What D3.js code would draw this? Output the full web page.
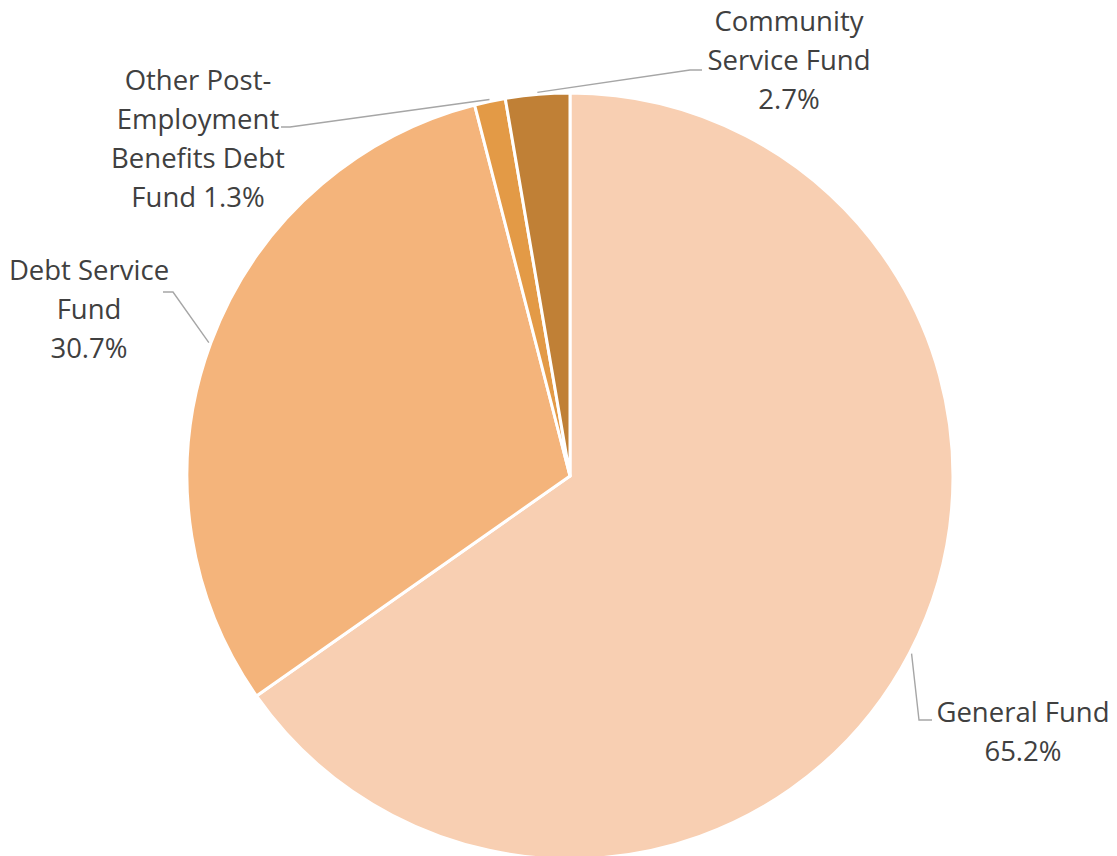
<!DOCTYPE html>
<html>
<head>
<meta charset="utf-8">
<script src="https://cdn.jsdelivr.net/npm/d3@7"></script>
<style>
  html, body { margin: 0; padding: 0; background: #ffffff; }
  svg { display: block; }
  text { font-family: "Open Sans", Lato, "Liberation Sans", sans-serif; fill: #404040; }
</style>
</head>
<body>
<svg id="chart" width="1117" height="856"></svg>
<script>
// ---- data ----
const categories = ["General Fund", "Debt Service Fund", "Other Post-Employment Benefits Debt Fund", "Community Service Fund"];
const values = [65.2, 30.7, 1.3, 2.7];
const labelLines = [
  ["General Fund", "65.2%"],
  ["Debt Service", "Fund", "30.7%"],
  ["Other Post-", "Employment", "Benefits Debt", "Fund 1.3%"],
  ["Community", "Service Fund", "2.7%"]
];
const colors = ["#F8CFB2", "#F4B47B", "#E39A46", "#C08036"];

// ---- layout (positions of the label boxes, leader elbows) ----
const W = 1117, H = 856;
const cx = 570, cy = 476, R = 383;
const lineH = 39;
const labelLayout = [
  { x: 1023, y: 722, elbow: [919, 720], end: [932, 720] },
  { x: 89,   y: 280, elbow: [173, 292], end: [163, 292] },
  { x: 198,  y: 90,  elbow: [290, 127], end: [281, 127] },
  { x: 789,  y: 31,  elbow: [690, 70],  end: [702, 70] }
];

const svg = d3.select("#chart");
const g = svg.append("g").attr("transform", `translate(${cx},${cy})`);

const pie = d3.pie().sort(null).value(d => d)
  .startAngle(0).endAngle(2 * Math.PI);
const arcs = pie(values);
const arc = d3.arc().innerRadius(0).outerRadius(R);

g.selectAll("path.slice")
  .data(arcs)
  .join("path")
  .attr("class", "slice")
  .attr("d", arc)
  .attr("fill", (d, i) => colors[i])
  .attr("stroke", "#ffffff")
  .attr("stroke-width", 3)
  .attr("stroke-linejoin", "round");

// leader lines
const leader = svg.append("g");
arcs.forEach((d, i) => {
  const a = (d.startAngle + d.endAngle) / 2;
  const rr = R + 2;
  const sx = cx + rr * Math.sin(a);
  const sy = cy - rr * Math.cos(a);
  const L = labelLayout[i];
  leader.append("polyline")
    .attr("points", [[sx, sy], L.elbow, L.end].map(p => p.join(",")).join(" "))
    .attr("fill", "none")
    .attr("stroke", "#A6A6A6")
    .attr("stroke-width", 1.4);
});

// labels
const labels = svg.append("g");
labelLines.forEach((lines, i) => {
  const L = labelLayout[i];
  const t = labels.append("text")
    .attr("text-anchor", "middle")
    .attr("font-size", 27.5);
  lines.forEach((s, j) => {
    t.append("tspan").attr("x", L.x).attr("y", L.y + j * lineH).text(s);
  });
});
</script>
</body>
</html>
